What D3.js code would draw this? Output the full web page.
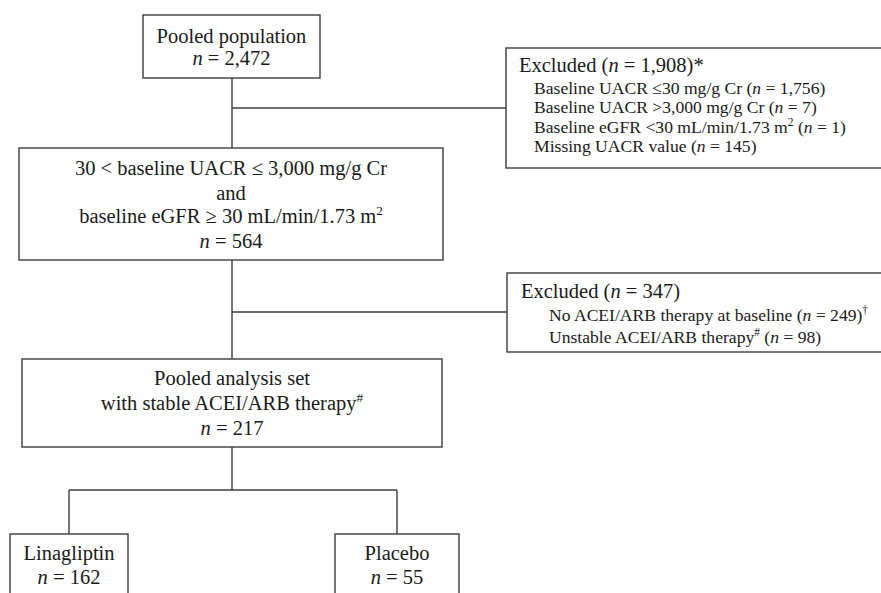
<!DOCTYPE html>
<html>
<head>
<meta charset="utf-8">
<script src="https://cdn.jsdelivr.net/npm/d3@7"></script>
<style>
  body { margin: 0; background: #fff; }
</style>
</head>
<body>
<div id="chart"></div>
<script>
// Flow counts
var stageNames = ["Pooled population",
                  "30 < baseline UACR ≤ 3,000 mg/g Cr|and|baseline eGFR ≥ 30 mL/min/1.73 m^2^",
                  "Pooled analysis set|with stable ACEI/ARB therapy^#^"];
var stageN = [2472, 564, 217];

var exclusionN = [1908, 347];
var exclusionMarks = ["*", ""];
var exclusionItems = [
  ["Baseline UACR ≤30 mg/g Cr", "Baseline UACR >3,000 mg/g Cr",
   "Baseline eGFR <30 mL/min/1.73 m^2^", "Missing UACR value"],
  ["No ACEI/ARB therapy at baseline", "Unstable ACEI/ARB therapy^#^"]
];
var exclusionItemN = [[1756, 7, 1, 145], [249, 98]];
var exclusionItemMarks = [["", "", "", ""], ["^†^", ""]];

var armNames = ["Linagliptin", "Placebo"];
var armN = [162, 55];

//Width and height
var w = 881;
var h = 593;
var fmt = d3.format(",");
var lineColor = "#3c3c3c";
var font = "'Liberation Serif', 'Times New Roman', serif";

// box layout
var stageBoxes = [
  {x: 143, y: 15, w: 177, h: 63, base: [43, 65]},
  {x: 19, y: 148, w: 424, h: 112, base: [175, 200, 223, 248]},
  {x: 22, y: 359, w: 420, h: 88, base: [385, 410, 435]}
];
var exclBoxes = [
  {x: 506, y: 48, w: 400, h: 120, hx: 519, ix: 534, base: [72, 94, 113, 133, 152], joinY: 108},
  {x: 507, y: 273, w: 400, h: 79, hx: 521, ix: 549, base: [298, 321, 343], joinY: 312}
];
var armBoxes = [
  {x: 10, y: 534, w: 118, h: 80, base: [560, 584]},
  {x: 335, y: 534, w: 124, h: 80, base: [560, 584]}
];
var spineX = 232;
var splitY = 490;
var mainSize = 20.5;
var itemSize = 17.6;

var svg = d3.select("#chart")
  .append("svg")
  .attr("width", w)
  .attr("height", h)
  .style("font-family", font);

// write one line with _italic_ and ^super^ markup
function writeLine(g, str, x, y, size, anchor) {
  var t = g.append("text")
    .attr("x", x)
    .attr("y", y)
    .attr("text-anchor", anchor)
    .style("font-size", size + "px")
    .style("fill", "#1a1a1a");
  var parts = str.split(/(_[^_]+_|\^[^^]+\^)/).filter(function(p){ return p.length; });
  var shift = 0;
  parts.forEach(function(p) {
    var s = t.append("tspan");
    if (shift) { s.attr("dy", shift); shift = 0; }
    if (p[0] === "_") {
      s.text(p.slice(1, -1)).style("font-style", "italic");
    } else if (p[0] === "^") {
      s.text(p.slice(1, -1))
        .attr("dy", -size * 0.38)
        .style("font-size", (size * 0.65) + "px");
      shift = size * 0.38;
    } else {
      s.text(p);
    }
  });
}

function box(b) {
  svg.append("rect")
    .attr("x", b.x).attr("y", b.y)
    .attr("width", b.w).attr("height", b.h)
    .style("fill", "none")
    .style("stroke", lineColor)
    .style("stroke-width", 1.4);
}

function line(x1, y1, x2, y2) {
  svg.append("line")
    .attr("x1", x1).attr("y1", y1).attr("x2", x2).attr("y2", y2)
    .style("stroke", lineColor)
    .style("stroke-width", 1.4);
}

// connectors
line(spineX, stageBoxes[0].y + stageBoxes[0].h, spineX, stageBoxes[1].y);
line(spineX, stageBoxes[1].y + stageBoxes[1].h, spineX, stageBoxes[2].y);
line(spineX, stageBoxes[2].y + stageBoxes[2].h, spineX, splitY);
exclBoxes.forEach(function(b) { line(spineX, b.joinY, b.x, b.joinY); });
var armCx = armBoxes.map(function(b) { return b.x + b.w / 2; });
line(armCx[0], splitY, armCx[1], splitY);
armCx.forEach(function(cx, i) { line(cx, splitY, cx, armBoxes[i].y); });

// main stages
stageNames.forEach(function(name, i) {
  var b = stageBoxes[i];
  box(b);
  var lines = name.split("|").concat(["_n_ = " + fmt(stageN[i])]);
  var g = svg.append("g");
  lines.forEach(function(l, j) {
    writeLine(g, l, b.x + b.w / 2, b.base[j], mainSize, "middle");
  });
});

// exclusions
exclusionN.forEach(function(n, i) {
  var b = exclBoxes[i];
  box(b);
  var g = svg.append("g");
  writeLine(g, "Excluded (_n_ = " + fmt(n) + ")" + exclusionMarks[i], b.hx, b.base[0], mainSize, "start");
  exclusionItems[i].forEach(function(item, j) {
    writeLine(g, item + " (_n_ = " + fmt(exclusionItemN[i][j]) + ")" + exclusionItemMarks[i][j],
      b.ix, b.base[j + 1], itemSize, "start");
  });
});

// treatment arms
armNames.forEach(function(name, i) {
  var b = armBoxes[i];
  box(b);
  var g = svg.append("g");
  writeLine(g, name, b.x + b.w / 2, b.base[0], mainSize, "middle");
  writeLine(g, "_n_ = " + fmt(armN[i]), b.x + b.w / 2, b.base[1], mainSize, "middle");
});
</script>
</body>
</html>
